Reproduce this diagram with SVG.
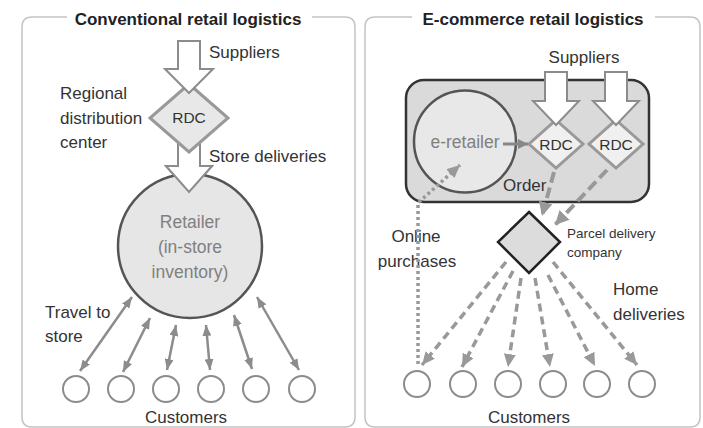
<svg xmlns="http://www.w3.org/2000/svg" width="703" height="428" viewBox="0 0 703 428">
<style>
text{font-family:"Liberation Sans",Arial,sans-serif;fill:#333;}
.title{font-size:17px;font-weight:bold;fill:#222;}
.lbl{font-size:17px;}
.gray{font-size:17.5px;fill:#808080;}
.rdc{font-size:15.5px;fill:#333;text-anchor:middle;}
.small{font-size:13.5px;}
.panel{fill:none;stroke:#c4c4c4;stroke-width:1.5;}
.block{fill:#fff;stroke:#8c8c8c;stroke-width:2;stroke-linejoin:miter;}
.cust{fill:#fff;stroke:#8c8c8c;stroke-width:2;}
.dbl{stroke:#8c8c8c;stroke-width:2.5;fill:none;marker-start:url(#ah);marker-end:url(#ah);}
.dash{stroke:#999;stroke-width:3.5;fill:none;stroke-dasharray:8 5;marker-end:url(#ah2);}
.rdcdash{stroke:#999;stroke-width:4;fill:none;stroke-dasharray:11 5;marker-end:url(#ah3);}
.dot{stroke:#999;stroke-width:3.5;fill:none;stroke-dasharray:3 3;marker-end:url(#ah2);}
</style>
<defs>
<marker id="ah" markerUnits="userSpaceOnUse" markerWidth="11" markerHeight="9" refX="11" refY="4.5" orient="auto-start-reverse"><path d="M0,0 L11,4.5 L0,9 z" fill="#8c8c8c"/></marker>
<marker id="ah2" markerUnits="userSpaceOnUse" markerWidth="13" markerHeight="12" refX="13" refY="6" orient="auto"><path d="M0,0 L13,6 L0,12 z" fill="#999"/></marker>
<marker id="ah3" markerUnits="userSpaceOnUse" markerWidth="14" markerHeight="14" refX="14" refY="7" orient="auto"><path d="M0,0 L14,7 L0,14 z" fill="#999"/></marker>
<marker id="ah4" markerUnits="userSpaceOnUse" markerWidth="10" markerHeight="10" refX="10" refY="5" orient="auto"><path d="M0,0 L10,5 L0,10 z" fill="#888"/></marker>
</defs>

<g id="panel-left">
<path class="panel" d="M67,17 H32 Q22,17 22,27 V417 Q22,427 32,427 H345 Q355,427 355,417 V27 Q355,17 345,17 H312"/>
<text class="title" x="188" y="25" text-anchor="middle">Conventional retail logistics</text>
</g>
<g id="panel-right">
<path class="panel" d="M412,17 H375 Q365,17 365,27 V417 Q365,427 375,427 H690 Q700,427 700,417 V27 Q700,17 690,17 H655"/>
<text class="title" x="533" y="25" text-anchor="middle">E-commerce retail logistics</text>
</g>

<!-- LEFT -->
<g id="store-deliveries-arrow">
<polygon class="block" points="178,140 200,140 200,166 212,166 189,192 166,166 178,166"/>
</g>
<g id="rdc-left">
<polygon points="189,84 228,118 189,152 150,118" fill="#e8e8e8" stroke="#999" stroke-width="3"/>
<text class="rdc" x="189" y="123">RDC</text>
</g>
<g id="suppliers-left">
<polygon class="block" points="178,41 200,41 200,69 213,69 189,93 165,69 178,69"/>
<text class="lbl" x="209" y="58">Suppliers</text>
</g>
<g id="retailer">
<circle cx="190" cy="246" r="72" fill="#e6e6e6" stroke="#555" stroke-width="2.5"/>
<text class="gray" x="190" y="228" text-anchor="middle">Retailer</text>
<text class="gray" x="190" y="253" text-anchor="middle">(in-store</text>
<text class="gray" x="190" y="278" text-anchor="middle">inventory)</text>
</g>
<g id="store-deliveries-arrow-head">
<polygon class="block" points="178,164 200,164 200,166 212,166 189,192 166,166 178,166"/>
<rect x="179" y="160" width="20" height="8" fill="#fff"/>
</g>
<g id="left-labels">
<text class="lbl" x="60" y="99">Regional</text>
<text class="lbl" x="60" y="124">distribution</text>
<text class="lbl" x="60" y="148">center</text>
<text class="lbl" x="209" y="162">Store deliveries</text>
<text class="lbl" x="45" y="318">Travel to</text>
<text class="lbl" x="45" y="342">store</text>
<text class="lbl" x="186" y="423" text-anchor="middle">Customers</text>
</g>
<g id="customers-left">
<circle class="cust" cx="76" cy="389" r="13"/>
<circle class="cust" cx="121" cy="389" r="13"/>
<circle class="cust" cx="166" cy="389" r="13"/>
<circle class="cust" cx="211" cy="389" r="13"/>
<circle class="cust" cx="256" cy="389" r="13"/>
<circle class="cust" cx="302" cy="389" r="13"/>
</g>
<g id="connectors-left">
<line class="dbl" x1="80" y1="371" x2="132" y2="297"/>
<line class="dbl" x1="123" y1="372" x2="150" y2="318"/>
<line class="dbl" x1="167" y1="370" x2="176" y2="325"/>
<line class="dbl" x1="210" y1="370" x2="206" y2="325"/>
<line class="dbl" x1="252" y1="369" x2="234" y2="315"/>
<line class="dbl" x1="299" y1="370" x2="257" y2="297"/>
</g>

<!-- RIGHT -->
<g id="eretail-box">
<rect x="406" y="80" width="243" height="122" rx="18" ry="18" fill="#dadada" stroke="#333" stroke-width="2.5"/>
</g>
<g id="e-retailer">
<circle cx="465" cy="141.5" r="51" fill="#e8e8e8" stroke="#555" stroke-width="2.5"/>
<text class="gray" x="465" y="148" text-anchor="middle">e-retailer</text>
</g>
<g id="rdc-right-1">
<polygon points="556,120 583,144 556,168 529,144" fill="#f0f0f0" stroke="#999" stroke-width="3"/>
<text class="rdc" x="556" y="150">RDC</text>
</g>
<g id="rdc-right-2">
<polygon points="616,120 643,144 616,168 589,144" fill="#f0f0f0" stroke="#999" stroke-width="3"/>
<text class="rdc" x="616" y="150">RDC</text>
</g>
<g id="suppliers-right">
<polygon class="block" points="545,72 567,72 567,101 579,101 556,125 533,101 545,101"/>
<polygon class="block" points="605,72 627,72 627,101 639,101 616,125 593,101 605,101"/>
<text class="lbl" x="584" y="63" text-anchor="middle">Suppliers</text>
</g>
<g id="parcel">
<polygon points="529,212 560,242 529,273 498,242" fill="#dcdcdc" stroke="#222" stroke-width="2.5"/>
<text class="small" x="567" y="238">Parcel delivery</text>
<text class="small" x="567" y="257">company</text>
</g>
<g id="customers-right">
<circle class="cust" cx="417" cy="384" r="13"/>
<circle class="cust" cx="463" cy="384" r="13"/>
<circle class="cust" cx="508" cy="384" r="13"/>
<circle class="cust" cx="553" cy="384" r="13"/>
<circle class="cust" cx="597" cy="384" r="13"/>
<circle class="cust" cx="642" cy="384" r="13"/>
</g>
<g id="right-labels">
<text class="lbl" x="503" y="191">Order</text>
<text class="lbl" x="416" y="242" text-anchor="middle">Online</text>
<text class="lbl" x="417" y="267" text-anchor="middle">purchases</text>
<text class="lbl" x="613" y="295">Home</text>
<text class="lbl" x="613" y="320">deliveries</text>
<text class="lbl" x="529" y="423" text-anchor="middle">Customers</text>
</g>
<g id="connectors-right">
<line x1="503" y1="144" x2="528" y2="144" stroke="#888" stroke-width="3" marker-end="url(#ah4)"/>
<polyline class="dot" points="418,364 418,203 460,165"/>
<line class="rdcdash" x1="554" y1="172" x2="542" y2="216"/>
<line class="rdcdash" x1="607" y1="170" x2="555" y2="225"/>
<line class="dash" x1="506" y1="262" x2="422" y2="365"/>
<line class="dash" x1="513" y1="271" x2="462" y2="367"/>
<line class="dash" x1="521" y1="278" x2="508" y2="367"/>
<line class="dash" x1="535" y1="278" x2="550" y2="367"/>
<line class="dash" x1="548" y1="275" x2="595" y2="366"/>
<line class="dash" x1="553" y1="262" x2="637" y2="365"/>
</g>
</svg>
